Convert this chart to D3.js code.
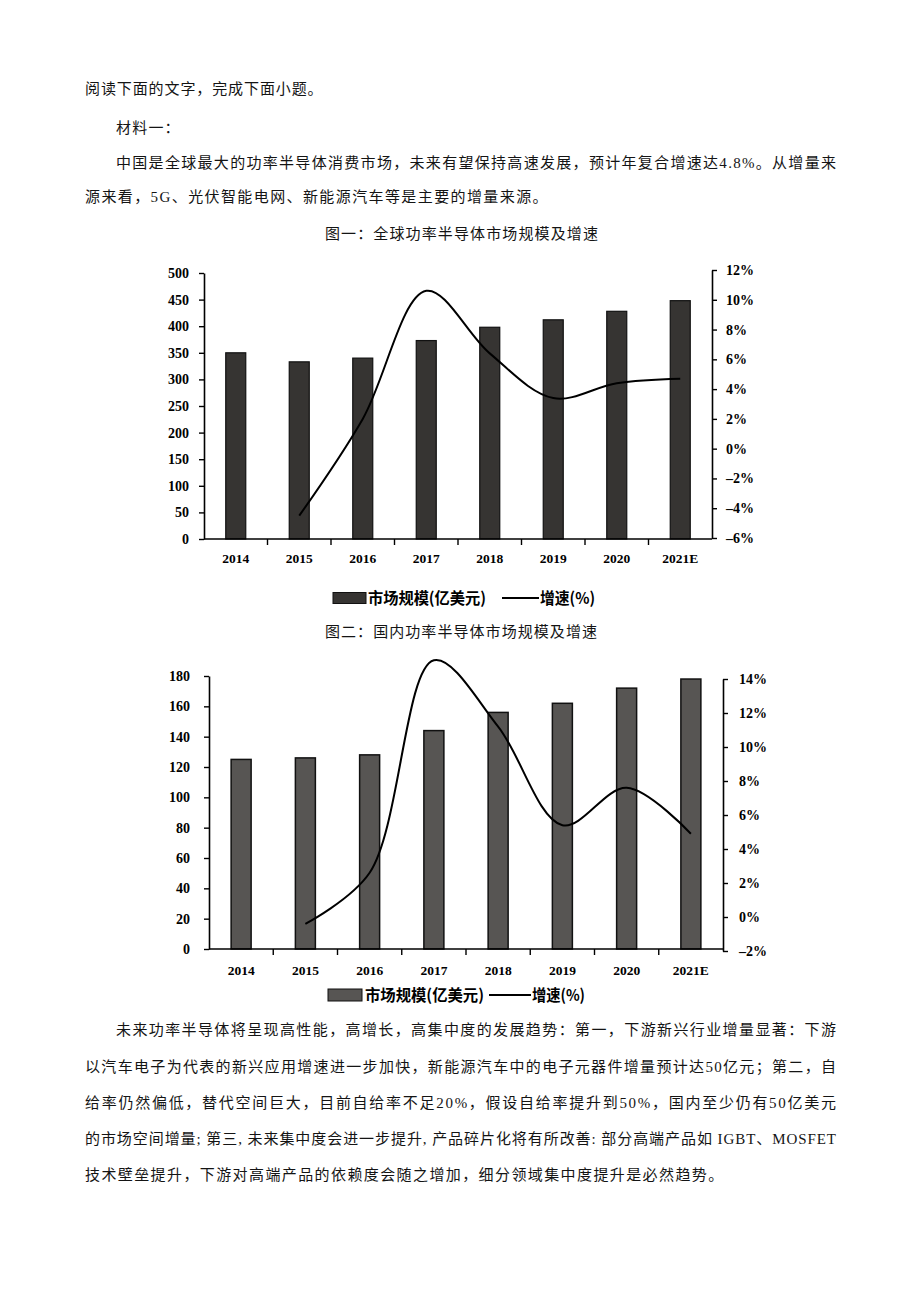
<!DOCTYPE html>
<html><head><meta charset="utf-8">
<script src="https://cdn.jsdelivr.net/npm/d3@7/dist/d3.min.js"></script>
<style>body{margin:0;background:#fff}svg{display:block}</style>
</head><body>
<svg id="c" width="920" height="1302"></svg>
<script>
const years = ["2014","2015","2016","2017","2018","2019","2020","2021E"];
const globalSize = [350, 333, 340, 373, 398, 412, 428, 448];
const globalGrowth = [null, -4.5, 2.0, 10.6, 6.4, 3.4, 4.4, 4.7];
const domesticSize = [125, 126, 128, 144, 156, 162, 172, 178];
const domesticGrowth = [null, -0.4, 2.6, 15.1, 11.2, 5.4, 7.6, 4.9];
const leftTicks1 = [0,50,100,150,200,250,300,350,400,450,500];
const rightTicks1 = [-6,-4,-2,0,2,4,6,8,10,12];
const leftTicks2 = [0,20,40,60,80,100,120,140,160,180];
const rightTicks2 = [-2,0,2,4,6,8,10,12,14];
const legendBar = "市场规模(亿美元)";
const legendLine = "增速(%)";

const introLines = [
  {t:"阅读下面的文字，完成下面小题。", x:85, y:93.5, ls:0.9},
  {t:"材料一：", x:116, y:132.5, ls:1.2},
  {t:"中国是全球最大的功率半导体消费市场，未来有望保持高速发展，预计年复合增速达4.8%。从增量来", x:116, y:167.5, len:720},
  {t:"源来看，5G、光伏智能电网、新能源汽车等是主要的增量来源。", x:85, y:201.5, ls:1.4},
  {t:"图一：全球功率半导体市场规模及增速", x:325, y:238.5, len:273},
  {t:"图二：国内功率半导体市场规模及增速", x:325, y:636.5, len:272},
  {t:"未来功率半导体将呈现高性能，高增长，高集中度的发展趋势：第一，下游新兴行业增量显著：下游", x:116, y:1034.5, len:720},
  {t:"以汽车电子为代表的新兴应用增速进一步加快，新能源汽车中的电子元器件增量预计达50亿元；第二，自", x:85, y:1071.5, len:751},
  {t:"给率仍然偏低，替代空间巨大，目前自给率不足20%，假设自给率提升到50%，国内至少仍有50亿美元", x:85, y:1107.5, len:751},
  {t:"的市场空间增量; 第三, 未来集中度会进一步提升, 产品碎片化将有所改善: 部分高端产品如 IGBT、MOSFET", x:85, y:1143.5, len:751},
  {t:"技术壁垒提升，下游对高端产品的依赖度会随之增加，细分领域集中度提升是必然趋势。", x:85, y:1180, ls:1.4}
];

const svg = d3.select("#c");
const bodyFont = "'Liberation Serif','Noto Sans CJK SC',serif";
const numFont = "'Liberation Serif',serif";
const cjkBold = "'Noto Sans CJK SC',sans-serif";

introLines.forEach(d => {
  const t = svg.append("text").attr("x", d.x).attr("y", d.y)
    .attr("font-family", bodyFont).attr("font-size", 15).attr("fill", "#141414").text(d.t);
  if (d.len) t.attr("textLength", d.len).attr("lengthAdjust", "spacing");
  if (d.ls) t.attr("letter-spacing", d.ls);
});

function drawChart(cfg) {
  const g = svg.append("g");
  const x = d3.scaleBand().domain(years).range([cfg.x0, cfg.x1]).paddingInner(0).paddingOuter(0);
  const yL = d3.scaleLinear().domain([cfg.lTicks[0], cfg.lTicks[cfg.lTicks.length-1]]).range([cfg.yB, cfg.yT]);
  const yR = d3.scaleLinear().domain([cfg.rTicks[0], cfg.rTicks[cfg.rTicks.length-1]]).range([cfg.yBR, cfg.yTR]);
  const bw = cfg.barW;

  // bars
  g.selectAll("rect.bar").data(cfg.size).join("rect")
    .attr("x", (d,i) => x(years[i]) + x.bandwidth()/2 - bw/2)
    .attr("y", d => yL(d))
    .attr("width", bw)
    .attr("height", d => yL(0) - yL(d))
    .attr("fill", cfg.barFill).attr("stroke", "#111").attr("stroke-width", cfg.barStroke);

  // left axis
  const la = g.append("g").attr("transform", `translate(${cfg.x0},0)`)
    .call(d3.axisLeft(yL).tickValues(cfg.lTicks).tickSize(5).tickPadding(cfg.lPad).tickSizeOuter(0));
  la.select(".domain").attr("stroke", "#000").attr("stroke-width", 1.6);
  la.selectAll(".tick line").attr("stroke", "#000").attr("stroke-width", 1.4);
  la.selectAll("text").attr("font-family", numFont).attr("font-weight", "bold").attr("font-size", 14).attr("fill", "#000");

  // right axis
  const ra = g.append("g").attr("transform", `translate(${cfg.x1},0)`)
    .call(d3.axisRight(yR).tickValues(cfg.rTicks).tickSize(5).tickPadding(cfg.rPad).tickSizeOuter(0)
      .tickFormat(d => (d < 0 ? "–" + Math.abs(d) : d) + "%"));
  ra.select(".domain").attr("stroke", "#000").attr("stroke-width", 1.6);
  ra.selectAll(".tick line").attr("stroke", "#000").attr("stroke-width", 1.4);
  ra.selectAll("text").attr("font-family", numFont).attr("font-weight", "bold").attr("font-size", 14).attr("fill", "#000");

  // bottom axis
  const bx = g.append("g").attr("transform", `translate(0,${yL(0)})`);
  bx.append("line").attr("x1", cfg.x0).attr("x2", cfg.x1).attr("stroke", "#000").attr("stroke-width", 1.6);
  bx.selectAll("line.tk").data(years.slice(1)).join("line")
    .attr("x1", d => x(d)).attr("x2", d => x(d)).attr("y1", 0).attr("y2", 6)
    .attr("stroke", "#000").attr("stroke-width", 1.4);
  bx.selectAll("text").data(years).join("text")
    .attr("x", d => x(d) + x.bandwidth()/2).attr("y", cfg.labelDy)
    .attr("text-anchor", "middle").attr("font-family", numFont).attr("font-weight", "bold")
    .attr("font-size", 13.5).attr("fill", "#000").text(d => d);

  // growth line
  const pts = cfg.growth.map((v,i) => v == null ? null : [x(years[i]) + x.bandwidth()/2, yR(v)]).filter(p => p);
  g.append("path").attr("d", d3.line().curve(d3.curveCatmullRom.alpha(0.5))(pts))
    .attr("fill", "none").attr("stroke", "#000").attr("stroke-width", 2);

  // legend
  const lg = g.append("g");
  lg.append("rect").attr("x", cfg.lgX).attr("y", cfg.lgY - cfg.swH/2).attr("width", cfg.swW).attr("height", cfg.swH)
    .attr("fill", cfg.barFill).attr("stroke", "#111").attr("stroke-width", 1);
  lg.append("text").attr("x", cfg.lgTX).attr("y", cfg.lgY + 6)
    .attr("font-family", cjkBold).attr("font-weight", "bold").attr("font-size", 16).attr("fill", "#000")
    .attr("textLength", cfg.lgTW).attr("lengthAdjust", "spacingAndGlyphs").text(legendBar);
  lg.append("line").attr("x1", cfg.lgLX).attr("x2", cfg.lgLX + cfg.lgLW).attr("y1", cfg.lgY).attr("y2", cfg.lgY)
    .attr("stroke", "#000").attr("stroke-width", 2);
  lg.append("text").attr("x", cfg.lgLX + cfg.lgLW + 1).attr("y", cfg.lgY + 6)
    .attr("font-family", cjkBold).attr("font-weight", "bold").attr("font-size", 16).attr("fill", "#000")
    .attr("textLength", cfg.lgLTW).attr("lengthAdjust", "spacingAndGlyphs").text(legendLine);
}

drawChart({
  x0: 204, x1: 712, yB: 539, yT: 273, yBR: 538, yTR: 270,
  lTicks: leftTicks1, rTicks: rightTicks1, size: globalSize, growth: globalGrowth,
  barW: 20, barFill: "#363432", barStroke: 1.2, lPad: 10, rPad: 9, labelDy: 24,
  lgX: 333, lgY: 598, swW: 33, swH: 11, lgTX: 368, lgTW: 118, lgLX: 502, lgLW: 37, lgLTW: 55
});

drawChart({
  x0: 209, x1: 723, yB: 949, yT: 676, yBR: 951, yTR: 679,
  lTicks: leftTicks2, rTicks: rightTicks2, size: domesticSize, growth: domesticGrowth,
  barW: 20, barFill: "#575553", barStroke: 1.5, lPad: 14, rPad: 11, labelDy: 26,
  lgX: 328, lgY: 995, swW: 34, swH: 12, lgTX: 365, lgTW: 119, lgLX: 489, lgLW: 42, lgLTW: 53
});
</script>
</body></html>
